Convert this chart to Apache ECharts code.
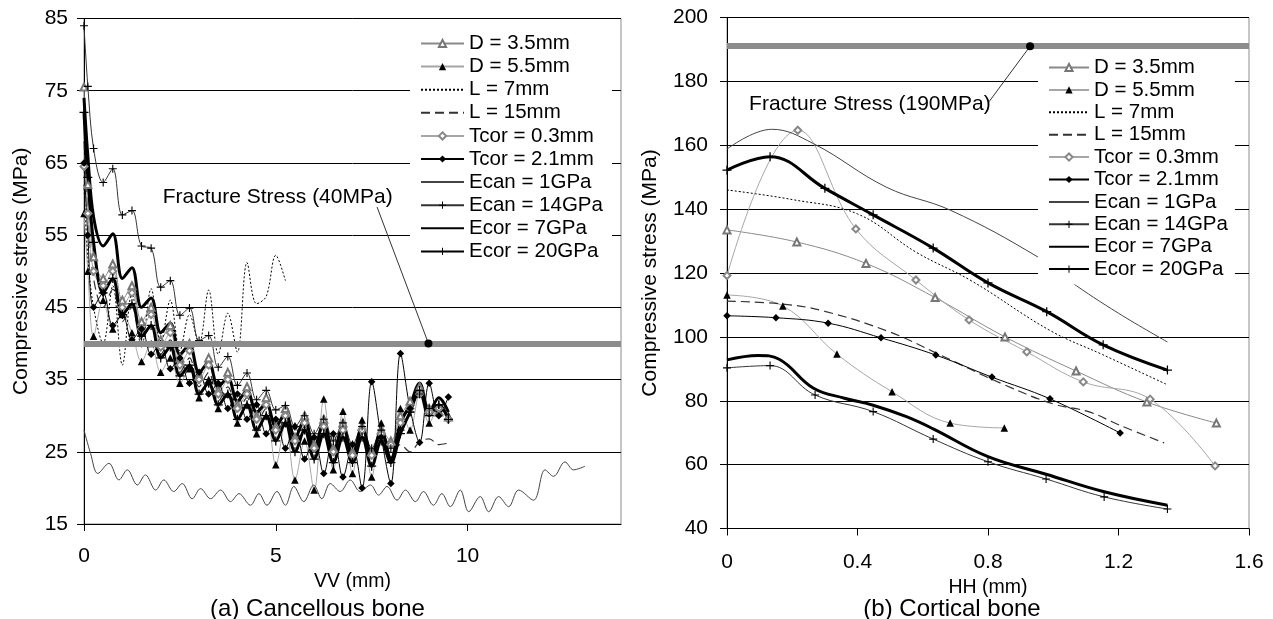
<!DOCTYPE html>
<html><head><meta charset="utf-8">
<script src="https://cdn.jsdelivr.net/npm/echarts@6/dist/echarts.min.js"></script>
<style>html,body{margin:0;padding:0;background:#fff}#c{width:1273px;height:619px}</style>
</head><body><div id="c"></div>
<script>
// ---------- names ----------
const seriesNames = ['D = 3.5mm','D = 5.5mm','L = 7mm','L = 15mm','Tcor = 0.3mm','Tcor = 2.1mm','Ecan = 1GPa','Ecan = 14GPa','Ecor = 7GPa','Ecor = 20GPa'];

// ---------- (a) cancellous bone : VV (mm) vs stress (MPa) ----------
const vvGrid = [0,0.1,0.25,0.5,0.75,1,1.25,1.5,1.75,2,2.25,2.5,2.75,3,3.25,3.5,3.75,4,4.25,4.5,4.75,5,5.25,5.5,5.75,6,6.25,6.5,6.75,7,7.25,7.5,7.75,8,8.25,8.5,8.75,9,9.25,9.5];
const canD35  = [75.5,62,52,49,51,46,48,43,45,40.5,42.5,38,40,35.5,38,33.5,36,31.5,34,30,32.5,28.5,31,27,30,26,29.5,25.5,29,25,28.5,25,28,26.5,30,32,34,31,30.5,29.8];
const canD55  = [58,50,41,46,42,44,41.5,37.5,40,36,38,34.5,36.5,32.5,35,31,33,29,31.5,27.5,30,23.2,29,21.1,26.5,19.7,32.3,22.5,30.6,22,29.4,21.5,29,24,31,28,33,29,31,30];
const canL7   = [62,52,45,40,48,37,47,39.5,47.6,40,46,39,44,40,47.4,38.5,44.2,38.8,51.2,45.5,46.5,52.2,48.7];
const canL15  = [68,58,49,45,47.5,43,45,40.5,42.5,38.5,40.5,36,38,34,36,32,34,30.5,32.5,29,31,27.5,29.5,26,28.5,25,28,24.5,27.5,24,27.5,24,27,24.8,26,25,26.4,26.8,26,26.2];
const canT03  = [64.5,58,50,48,50,45,47,42,44,39.5,41.5,37,39,35,37,33,35,31,33,29.5,31.5,28,30,26.5,29,25.5,28.5,25,28,24.5,28,24.5,27.5,26,29,31,33,30.5,31,29.5];
const canT21  = [65,55,45,47,42.5,44,40.5,42,38.5,40,36.5,38,34.5,36,33,34.5,31,33,29.5,31.5,27.5,29.5,25.5,28.5,24,27,22,27.5,21.5,26,20,34.7,27,20.6,38.6,31,26.3,34.5,30,32.6];
const canE1x  = [0,0.17,0.36,0.65,0.91,1.13,1.39,1.6,1.87,2.08,2.34,2.56,2.82,3.04,3.3,3.56,3.82,4.04,4.34,4.56,4.77,5.03,5.25,5.47,5.73,5.99,6.2,6.42,6.68,6.94,7.2,7.47,7.68,7.9,8.16,8.38,8.64,8.85,9.11,9.33,9.55,9.81,10.03,10.33,10.55,10.81,11.07,11.33,11.72,12.02,12.24,12.54,12.76,13.06];
const canE1   = [28,24.8,22,23.4,21.1,22.5,20.4,21.8,19.7,21.1,19.5,20.6,18.5,19.9,18.5,19.7,18.1,19.2,17.6,19.2,17.6,19.5,17.6,20.2,18.1,20.4,18.5,20.6,19.5,21.1,19.5,20.4,19,20.2,18.3,19.7,18.1,19.5,17.6,19.2,17.4,19.7,16.7,18.8,16.7,18.8,17.4,19.7,18.3,22.5,21.6,23.6,22.5,23];
const canE14  = [84,75.6,67,62.3,64.2,57.8,58.4,53.5,53.2,47.8,48.7,43.9,44.9,40.4,41.1,36.7,38.2,34.2,35.9,32.2,33.5,30.8,31.4,28.5,30,27.5,29.5,26.5,29,26,28.5,25.5,28,25.5,28,30.5,33,31,31.5];
const canEc7  = [74,66,57.5,53.5,55.2,49,50.5,45,46.3,41.5,42.8,38.5,39.8,36,37.4,34,35.3,32,33.5,30.5,31.7,28.5,30.3,27,29.5,25.5,29,25,28.5,24.5,28.5,24.5,28,24,29,31.5,34.5,30.5,32.5,30.5];
const canEc20 = [72,63,54,47,49,44,45.5,41,42.5,38,39.5,35.5,37,33,34.5,31.5,33,29.5,31.5,28,30,26.5,29,25,28,24,27.5,23.5,27,23.5,27,23,26.5,23.5,27.5,30.5,33.5,30,31.5,29.5];
const canFracture = [40];
const canFracText = ['Fracture Stress (40MPa)'];
const canTextAt   = [5.05, 60.2];
const canLeader   = [[7.64, 58.9], [8.98, 40]];

// ---------- (b) cortical bone : HH (mm) vs stress (MPa) ----------
const corD35x = [0,0.214,0.426,0.638,0.852,1.07,1.287,1.5];
const corD35  = [133.5,129.7,123,112.3,100,89.3,79.6,73];
const corD55x = [0,0.171,0.337,0.506,0.684,0.85];
const corD55  = [113.1,109.7,94.6,82.8,73,71.5];
const corL7x  = [0,0.2,0.4,0.58,0.75,0.99,1.15,1.35];
const corL7   = [146,143,138.5,126.5,117.5,102,94.5,85];
const corL15x = [0,0.17,0.3,0.5,0.64,0.85,1.0,1.11,1.2,1.34];
const corL15  = [111.2,110.3,108,101.5,95,85,79,76.5,72.5,66.8];
const corT03x = [0,0.217,0.395,0.579,0.742,0.919,1.092,1.297,1.496];
const corT03  = [119.2,164.7,133.8,117.8,105.3,95.3,85.9,80.5,59.6];
const corT21x = [0,0.15,0.31,0.472,0.64,0.812,0.99,1.205];
const corT21  = [106.6,106,104.3,99.7,94.3,87.4,80.6,69.9];
const corE1x  = [0,0.137,0.265,0.49,0.686,0.953,1.05,1.2,1.35];
const corE1   = [158.8,165,160.5,146.8,139.6,125,117.5,107.4,98.4];
const corE14x = [0,0.132,0.27,0.448,0.632,0.8,0.978,1.156,1.35];
const corE14  = [90.3,91,81.8,76.6,68,60.9,55.5,49.9,46.1];
const corEc7x = [0,0.095,0.16,0.264,0.36,0.448,0.55,0.632,0.8,0.978,1.156,1.35];
const corEc7  = [92.8,94.2,93,84,80.8,78.6,75,71.2,62.5,57,51.5,47.3];
const corEc20x= [0,0.132,0.3,0.448,0.632,0.8,0.98,1.153,1.35];
const corEc20 = [152.2,156.4,146.5,138.2,127.8,116.9,107.9,97.5,89.6];
const corFracture = [191];
const corFracText = ['Fracture Stress (190MPa)'];
const corTextAt   = [0.438, 173];
const corLeader   = [[0.803, 173.6], [0.929, 191]];

// ---------- styling ----------
const FONT = 'Liberation Sans, Arial, sans-serif';
const PLUS = 'path://M0,3.45H8V4.55H0Z M3.45,0H4.55V8H3.45Z';
const NOFILL = {color:'rgba(0,0,0,0)', borderColor:'rgba(0,0,0,0)', borderWidth:0, opacity:0};
function style(name){
  switch(name){
    case 'D = 3.5mm': return {lineStyle:{color:'#8a8a8a',width:1}, symbol:'emptyTriangle', symbolSize:7, itemStyle:{color:'#777',borderWidth:1}};
    case 'D = 5.5mm': return {lineStyle:{color:'#a6a6a6',width:1}, symbol:'triangle', symbolSize:7.5, itemStyle:{color:'#000'}};
    case 'L = 7mm': return {lineStyle:{color:'#000',width:1,type:[2,2]}, symbol:'none', itemStyle:NOFILL};
    case 'L = 15mm': return {lineStyle:{color:'#333',width:1.2,type:[9,5]}, symbol:'none', itemStyle:NOFILL};
    case 'Tcor = 0.3mm': return {lineStyle:{color:'#a6a6a6',width:1}, symbol:'emptyDiamond', symbolSize:7, itemStyle:{color:'#888',borderWidth:1}};
    case 'Tcor = 2.1mm': return {lineStyle:{color:'#000',width:1}, symbol:'diamond', symbolSize:7.5, itemStyle:{color:'#000'}};
    case 'Ecan = 1GPa': return {lineStyle:{color:'#444',width:1}, symbol:'none', itemStyle:NOFILL};
    case 'Ecan = 14GPa': return {lineStyle:{color:'#333',width:1}, symbol:PLUS, symbolSize:8, itemStyle:{color:'#000'}};
    case 'Ecor = 7GPa': return {lineStyle:{color:'#000',width:3}, symbol:'none', itemStyle:NOFILL};
    case 'Ecor = 20GPa': return {lineStyle:{color:'#000',width:3}, symbol:PLUS, symbolSize:9, itemStyle:{color:'#000'}};
  }
}
function pairs(xs, ys){ return ys.map((y,i)=>[xs[i], y]); }

const leftData = [
  pairs(vvGrid, canD35), pairs(vvGrid, canD55), pairs(vvGrid, canL7), pairs(vvGrid, canL15),
  pairs(vvGrid, canT03), pairs(vvGrid, canT21), pairs(canE1x, canE1), pairs(vvGrid, canE14),
  pairs(vvGrid, canEc7), pairs(vvGrid, canEc20)
];
const rightData = [
  pairs(corD35x, corD35), pairs(corD55x, corD55), pairs(corL7x, corL7), pairs(corL15x, corL15),
  pairs(corT03x, corT03), pairs(corT21x, corT21), pairs(corE1x, corE1), pairs(corE14x, corE14),
  pairs(corEc7x, corEc7), pairs(corEc20x, corEc20)
];

const series = [];
seriesNames.forEach((n,i)=>{
  series.push(Object.assign({type:'line', name:n, xAxisIndex:0, yAxisIndex:0, data:leftData[i], smooth:0.35, showAllSymbol:true, z:2, silent:true}, style(n)));
});
seriesNames.forEach((n,i)=>{
  series.push(Object.assign({type:'line', name:n, xAxisIndex:1, yAxisIndex:1, data:rightData[i], smooth:0.4, showAllSymbol:true, z:2, silent:true}, style(n)));
});

function fractureSeries(axisIdx, level, text, textAt, leader){
  return {
    type:'line', name:'_frac'+axisIdx, xAxisIndex:axisIdx, yAxisIndex:axisIdx, z:6, silent:true,
    data: leader,
    lineStyle:{color:'#333', width:1},
    symbol:'circle',
    symbolSize:(v,p)=> p.dataIndex === 1 ? 8 : 0,
    itemStyle:{color:'#000'},
    markLine:{silent:true, symbol:'none', z:5, label:{show:false},
      lineStyle:{color:'#8c8c8c', width:6, type:'solid'},
      data:[{yAxis:level[0]}]},
    markPoint:{silent:true, symbol:'rect', symbolSize:1, itemStyle:{color:'rgba(0,0,0,0)'},
      label:{show:true, position:'inside', formatter:text[0], fontSize:21, color:'#000', fontFamily:FONT},
      data:[{coord:textAt}]}
  };
}
series.push(fractureSeries(0, canFracture, canFracText, canTextAt, canLeader));
series.push(fractureSeries(1, corFracture, corFracText, corTextAt, corLeader));

const axisCommon = {
  axisLine:{show:true, onZero:false, lineStyle:{color:'#000', width:1}},
  axisTick:{show:true, length:7, lineStyle:{color:'#000'}},
  nameTextStyle:{color:'#000', fontFamily:FONT},
};

const option = {
  animation:false,
  textStyle:{fontFamily:FONT},
  grid:[
    {left:84, top:18.5, width:537, height:505.5, show:true, borderColor:'#8c8c8c', borderWidth:1, backgroundColor:'rgba(0,0,0,0)'},
    {left:727, top:17.5, width:522, height:511, show:true, borderColor:'#8c8c8c', borderWidth:1, backgroundColor:'rgba(0,0,0,0)'}
  ],
  xAxis:[
    Object.assign({}, axisCommon, {type:'value', gridIndex:0, min:0, max:14, interval:5,
      splitLine:{show:false},
      axisLabel:{fontSize:21, color:'#000', margin:22, showMaxLabel:false, fontFamily:FONT},
      name:'VV (mm)', nameLocation:'middle', nameGap:47,
      nameTextStyle:{fontSize:19.5, color:'#000', fontFamily:FONT}}),
    Object.assign({}, axisCommon, {type:'value', gridIndex:1, min:0, max:1.6, interval:0.4,
      splitLine:{show:false},
      axisLabel:{fontSize:21, color:'#000', margin:23.5, fontFamily:FONT, formatter:v=>String(+v.toFixed(1))},
      name:'HH (mm)', nameLocation:'middle', nameGap:43,
      nameTextStyle:{fontSize:19.5, color:'#000', fontFamily:FONT}})
  ],
  yAxis:[
    Object.assign({}, axisCommon, {type:'value', gridIndex:0, min:15, max:85, interval:10,
      splitLine:{show:true, lineStyle:{color:'#000', width:1}},
      axisLabel:{fontSize:21, color:'#000', margin:16, fontFamily:FONT},
      name:'Compressive stress (MPa)', nameLocation:'middle', nameGap:52.5,
      nameTextStyle:{fontSize:21, color:'#000', fontFamily:FONT}}),
    Object.assign({}, axisCommon, {type:'value', gridIndex:1, min:40, max:200, interval:20,
      splitLine:{show:true, lineStyle:{color:'#000', width:1}},
      axisLabel:{fontSize:21, color:'#000', margin:19, fontFamily:FONT},
      name:'Compressive stress (MPa)', nameLocation:'middle', nameGap:66.5,
      nameTextStyle:{fontSize:21, color:'#000', fontFamily:FONT}})
  ],
  legend:[
    {data:seriesNames, orient:'vertical', left:410, top:28, itemWidth:43, itemHeight:9, itemGap:2.1,
     padding:[5,9,5,10], backgroundColor:'#fff', selectedMode:false, z:8,
     textStyle:{fontSize:20.5, lineHeight:20, color:'#000', fontFamily:FONT}},
    {data:seriesNames, orient:'vertical', left:1038, top:52, itemWidth:40, itemHeight:9, itemGap:1.4,
     padding:[5,7,5,10], backgroundColor:'#fff', selectedMode:false, z:8,
     textStyle:{fontSize:20.5, lineHeight:20, color:'#000', fontFamily:FONT}}
  ],
  graphic:[
    {type:'text', x:317.5, y:609, style:{text:'(a) Cancellous bone', fontSize:24, fontFamily:FONT, fill:'#000', align:'center', verticalAlign:'middle', textAlign:'center', textVerticalAlign:'middle'}},
    {type:'text', x:952, y:609, style:{text:'(b) Cortical bone', fontSize:24, fontFamily:FONT, fill:'#000', align:'center', verticalAlign:'middle', textAlign:'center', textVerticalAlign:'middle'}}
  ],
  series:series
};
const chart = echarts.init(document.getElementById('c'), null, {renderer:'canvas'});
chart.setOption(option);
</script>
</body></html>
